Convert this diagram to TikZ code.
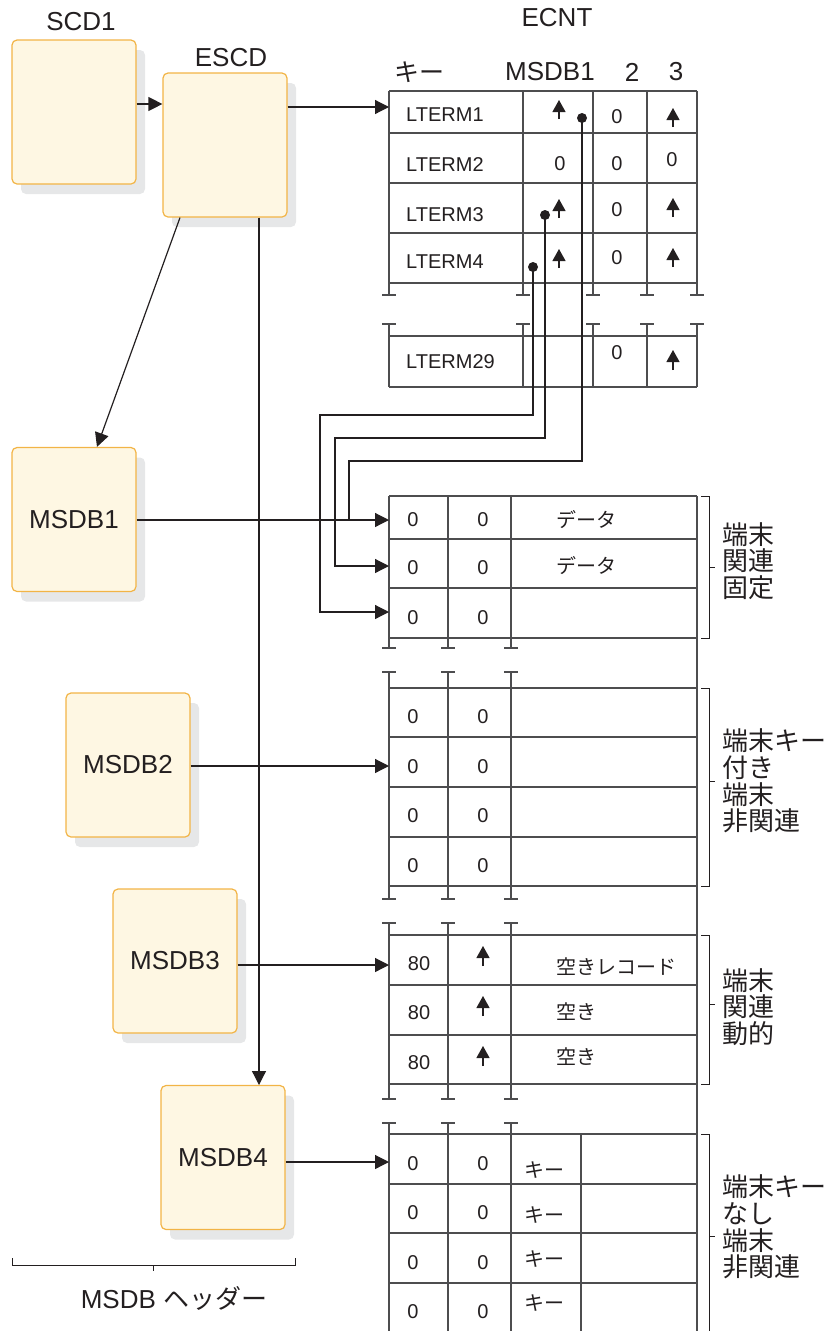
\documentclass[tikz,border=0pt]{standalone}
\usepackage{fontspec}
\setmainfont{Liberation Sans}
\newfontfamily\jp{Noto Sans CJK JP}
\usetikzlibrary{arrows.meta, positioning, shadows}

\definecolor{boxline}{HTML}{F2B446}
\definecolor{boxfill}{HTML}{FEF7E3}
\definecolor{boxshade}{HTML}{E6E7E8}
\definecolor{ink}{HTML}{231F20}
\definecolor{rule}{HTML}{4D4D4F}

\tikzset{
  hdr/.style={draw=boxline, fill=boxfill, line width=1.2pt, rounded corners=5pt,
    minimum width=124pt, minimum height=144pt, inner sep=0pt, text=ink,
    font=\fontsize{26}{30}\selectfont,
    drop shadow={shadow xshift=9pt, shadow yshift=-10pt, fill=boxshade, opacity=1}},
  ttl/.style={text=ink, inner sep=0pt, font=\fontsize{26}{30}\selectfont},
  cell/.style={text=ink, inner sep=0pt, font=\fontsize{20}{24}\selectfont},
  jcell/.style={text=ink, inner sep=0pt, anchor=west, font=\jp\fontsize{20}{24}\selectfont},
  grp/.style={text=ink, inner sep=0pt, anchor=west, align=left, font=\jp\fontsize{26}{26.7}\selectfont},
  link/.style={draw=ink, line width=1.2pt, -{Triangle[length=14pt,width=14pt]}},
  wire/.style={draw=ink, line width=1.2pt},
  tabline/.style={draw=rule, line width=1.3pt},
  brk/.style={draw=ink, line width=1pt},
  ptr/.style={draw=ink, line width=1.2pt, -{Triangle[length=12pt,width=13pt]}},
}

\begin{document}
\begin{tikzpicture}[x=1pt, y=-1pt]
\useasboundingbox (0,0) rectangle (830,1331);

% ヘッダー
\node[hdr] (scd1) at (74,112) {};
\node[hdr] (escd) at (225,145) {};
\node[hdr] (msdb1) at (74,519.5) {MSDB1};
\node[hdr] (msdb2) at (128,765) {MSDB2};
\node[hdr] (msdb3) at (175,961) {MSDB3};
\node[hdr] (msdb4) at (223,1157.5) {MSDB4};
\node[ttl] (scd1t) at (81,22) {SCD1};
\node[ttl] (escdt) at (231,58) {ESCD};

% MSDB ヘッダー の括弧
\draw[brk] (12,1258) -- (12,1265) -- (295,1265) -- (295,1258) (153,1265) -- (153,1271);
\node[ttl] (hdrt) at (174,1298) {MSDB {\jp ヘッダー}};

% ECNT
\node[ttl] (ecntt) at (557,18) {ECNT};
\node[ttl, font=\jp\fontsize{25}{28}\selectfont] (keyh) at (419,72) {キー};
\node[ttl] (c1h) at (550,72) {MSDB1};
\node[ttl] (c2h) at (632,72) {2};
\node[ttl] (c3h) at (676,72) {3};

\foreach \y in {91,133,183,233,283,336,387}
    \draw[tabline] (389,\y) -- (697,\y);
\foreach \x in {389,523,593,647,697} {
    \draw[tabline] (\x,91) -- (\x,295) (\x-7,295) -- (\x+7,295);
    \draw[tabline] (\x-7,324) -- (\x+7,324) (\x,324) -- (\x,387);
}

\foreach \t/\y [count=\i] in {LTERM1/115, LTERM2/165, LTERM3/215, LTERM4/262, LTERM29/362}
    \node[cell, anchor=west] (lt\i) at (406,\y) {\t};
\foreach \x/\y [count=\i] in {617/117, 560/164, 617/164, 672/160, 617/210, 617/258, 617/353}
    \node[cell] (ez\i) at (\x,\y) {0};
\foreach \x/\a/\b in {559/119/100, 673/127/108, 559/218/199, 673/217/198, 559/268/249, 673/267/248, 673/370/350}
    \draw[ptr] (\x,\a) -- (\x,\b);

% MSDB の表
\foreach \y in {496,539,588,638, 688,737,787,837,886, 935,985,1035,1084, 1134,1184,1233,1283}
    \draw[tabline] (389,\y) -- (697,\y);
\foreach \x in {389,448,511} {
    \draw[tabline] (\x,496) -- (\x,648) (\x-7,648) -- (\x+7,648);
    \foreach \a/\b in {672/899, 923/1099}
        \draw[tabline] (\x-7,\a) -- (\x+7,\a) (\x,\a) -- (\x,\b) (\x-7,\b) -- (\x+7,\b);
    \draw[tabline] (\x-7,1123) -- (\x+7,1123) (\x,1123) -- (\x,1331);
}
\draw[tabline] (697,496) -- (697,1331);
\draw[tabline] (581,1134) -- (581,1331);

% 表の中身
\foreach \y [count=\i] in {520,568,618, 717,767,816,866, 1164,1213,1263,1312} {
    \node[cell] (za\i) at (413,\y) {0};
    \node[cell] (zb\i) at (483,\y) {0};
}
\node[jcell] (d1) at (556,520) {データ};
\node[jcell] (d2) at (556,566) {データ};
\foreach \y [count=\i] in {964,1013,1063}
    \node[cell] (e\i) at (419,\y) {80};
\foreach \y in {966,1016,1066}
    \draw[ptr] (483,\y) -- (483,\y-20);
\node[jcell] (f1) at (556,967) {空きレコード};
\node[jcell] (f2) at (556,1012) {空き};
\node[jcell] (f3) at (556,1057) {空き};
\foreach \y [count=\i] in {1170,1215,1259,1303}
    \node[jcell] (k\i) at (524,\y) {キー};

% 右の括弧
\draw[brk] (701,496) -- (709,496) -- (709,638) -- (701,638) (709,567) -- (715,567);
\draw[brk] (701,688) -- (709,688) -- (709,886) -- (701,886) (709,781) -- (715,781);
\draw[brk] (701,935) -- (709,935) -- (709,1084) -- (701,1084) (709,1004) -- (715,1004);
\draw[brk] (701,1134) -- (709,1134) -- (709,1331) (709,1236) -- (715,1236);
\node[grp] (g1) at (722,561) {端末\\関連\\固定};
\node[grp] (g2) at (722,781) {端末キー\\付き\\端末\\非関連};
\node[grp] (g3) at (722,1007) {端末\\関連\\動的};
\node[grp] (g4) at (722,1227) {端末キー\\なし\\端末\\非関連};

% 矢印
\coordinate (ecnt) at (389,107);
\coordinate (drop) at (259,1085);
\coordinate (r1) at (389,520);
\coordinate (r2) at (389,566);
\coordinate (r3) at (389,612);
\coordinate (r4) at (389,766);
\coordinate (r5) at (389,965);
\coordinate (r6) at (389,1162);
\coordinate (j1) at (349,520);
\draw[link] ([yshift=8pt]scd1.east) -- ([yshift=8pt]scd1.east -| escd.west);
\draw[link] (escd.east |- ecnt) -- (ecnt);
\draw[link] ([xshift=-45pt]escd.south) -- ([xshift=23pt]msdb1.north);
\draw[link] (escd.south -| drop) -- (drop);
\draw[link] (msdb1.east |- r1) -- (r1);
\draw[link] (msdb2.east |- r4) -- (r4);
\draw[link] (msdb3.east |- r5) -- (r5);
\draw[link] (msdb4.east |- r6) -- (r6);

% ポインター
\coordinate (p1) at (582,118);
\coordinate (p3) at (545,215);
\coordinate (p4) at (533,267);
\foreach \p in {p1,p3,p4}
    \fill[ink] (\p) circle (5pt);
\draw[wire] (p1) -- ++(0,343) -| (j1);
\draw[link] (p3) -- ++(0,223) -- ++(-210,0) |- (r2);
\draw[link] (p4) -- ++(0,148) -- ++(-213,0) |- (r3);

\end{tikzpicture}
\end{document}
